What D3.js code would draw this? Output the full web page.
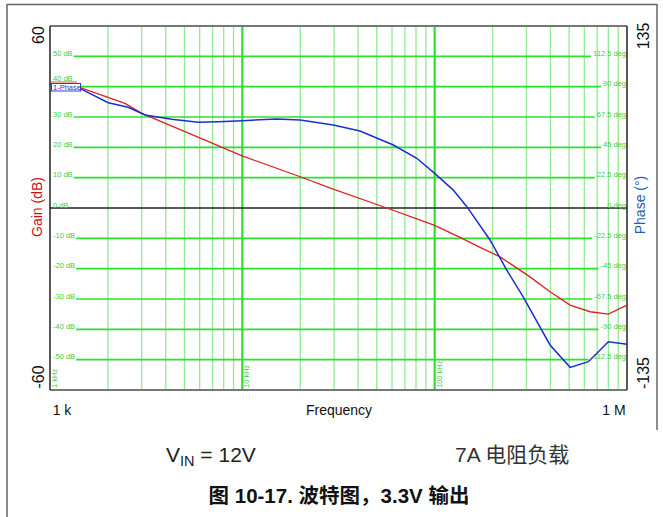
<!DOCTYPE html>
<html><head><meta charset="utf-8">
<script src="https://cdn.jsdelivr.net/npm/d3@7"></script>
<style>
html,body{margin:0;padding:0;background:#fff;}
svg{display:block;font-family:"Liberation Sans",Arial,"Noto Sans CJK SC",sans-serif;}
</style></head>
<body>
<svg id="chart" width="663" height="517"></svg>
<script>
// ---- data ----
const freqGain = [1000,1462,2455,3000,6400,10050,20000,29700,56400,80700,100000,135500,172000,219000,313000,398000,506000,643000,800000,1000000];
const gainDb   = [40.8,39.5,34.5,31.2,22.4,17.1,10.3,6.2,0.0,-3.6,-5.7,-9.7,-13.0,-16.1,-22.7,-27.6,-32.0,-34.2,-35.0,-32.0];
const freqPhase = [1000,1462,2010,2550,3120,4290,5900,7500,10000,15100,20000,29700,40900,61000,80700,100000,125000,147000,194000,237000,288000,398000,506000,630000,800000,1000000];
const phaseDeg  = [91.5,88,78.1,74.7,69,65.8,63.6,64,64.8,66,65.3,61.6,57.1,46.7,36.9,25.7,13.3,1,-23.7,-46,-65.8,-101.6,-118.2,-114,-99.2,-101.1];
const gainTicks  = [50,40,30,20,10,0,-10,-20,-30,-40,-50];
const phaseTicks = [112.5,90,67.5,45,22.5,0,-22.5,-45,-67.5,-90,-112.5];
const decadeFreqs = [1000,10000,100000];
const decadeLabels = ["1 kHz","10 kHz","100 kHz"];

const svg = d3.select("#chart");
const L=50, R=627, T=26, B=390;
const x = d3.scaleLog().domain([1000,1e6]).range([L,R]);
const yG = d3.scaleLinear().domain([-60,60]).range([B,T]);
const yP = d3.scaleLinear().domain([-135,135]).range([B,T]);

// outer frame
svg.append("line").attr("x1",7).attr("x2",7).attr("y1",4).attr("y2",517).attr("stroke","#666").attr("stroke-width",1.5);
svg.append("line").attr("x1",7).attr("x2",657).attr("y1",4.5).attr("y2",4.5).attr("stroke","#666").attr("stroke-width",1.5);
svg.append("line").attr("x1",657).attr("x2",657).attr("y1",4).attr("y2",430).attr("stroke","#666").attr("stroke-width",1.5);

// vertical grid
const minor=[];
for (let d=1000; d<1e6; d*=10) for (let k=2;k<=9;k++) minor.push(d*k);
const gridG = svg.append("g");
gridG.selectAll("line.mn").data(minor).join("line").attr("class","mn")
  .attr("x1",d=>x(d)).attr("x2",d=>x(d)).attr("y1",T).attr("y2",B)
  .attr("stroke","#95e895").attr("stroke-width",1.3);
gridG.selectAll("line.mj").data([10000,100000]).join("line").attr("class","mj")
  .attr("x1",d=>x(d)).attr("x2",d=>x(d)).attr("y1",T).attr("y2",B)
  .attr("stroke","#2ee02e").attr("stroke-width",2.2);

// horizontal grid with labels
const hG = svg.append("g");
const gl = svg.append("g").attr("font-size",7.5).attr("fill","#44cc44");
gainTicks.forEach((g,i)=>{
  const y = yG(g);
  const lt = gl.append("text").attr("x",L+3).attr("y",g===40?y-5.5:y-0.5).text(g+" dB");
  const rt = gl.append("text").attr("x",R-1).attr("y",y-0.5).attr("text-anchor","end").text(phaseTicks[i]+" deg");
  const lw = lt.node().getComputedTextLength();
  const rw = rt.node().getComputedTextLength();
  if (g===0) {
    hG.append("line").attr("x1",L).attr("x2",R).attr("y1",y).attr("y2",y).attr("stroke","#222").attr("stroke-width",1.3);
  } else {
    hG.append("line").attr("x1",L+4+lw).attr("x2",R-3-rw).attr("y1",y).attr("y2",y).attr("stroke","#2ee02e").attr("stroke-width",1.6);
  }
});

// decade labels rotated
svg.append("g").selectAll("text").data(decadeFreqs).join("text")
  .attr("transform",d=>`translate(${x(d)+7},${B-2}) rotate(-90)`)
  .attr("font-size",7.5).attr("fill","#44cc44").text((d,i)=>decadeLabels[i]);

// borders
svg.append("line").attr("x1",L).attr("x2",R).attr("y1",T).attr("y2",T).attr("stroke","#777").attr("stroke-width",2);
svg.append("line").attr("x1",L).attr("x2",R).attr("y1",B).attr("y2",B).attr("stroke","#777").attr("stroke-width",2);
svg.append("line").attr("x1",L).attr("x2",L).attr("y1",T).attr("y2",B).attr("stroke","#222").attr("stroke-width",1.5);
svg.append("line").attr("x1",R).attr("x2",R).attr("y1",T).attr("y2",B).attr("stroke","#222").attr("stroke-width",1.5);

// curves
const gainLine = d3.line().x(d=>x(d[0])).y(d=>yG(d[1]));
const phaseLine = d3.line().x(d=>x(d[0])).y(d=>yP(d[1]));
svg.append("path").datum(freqGain.map((f,i)=>[f,gainDb[i]])).attr("d",gainLine)
  .attr("fill","none").attr("stroke","#dd2222").attr("stroke-width",1.3);
svg.append("path").datum(freqPhase.map((f,i)=>[f,phaseDeg[i]])).attr("d",phaseLine)
  .attr("fill","none").attr("stroke","#1a2fd0").attr("stroke-width",1.5);

// legend boxes
svg.append("line").attr("x1",51).attr("x2",77).attr("y1",82).attr("y2",82).attr("stroke","#e05555").attr("stroke-width",1);
svg.append("rect").attr("x",51.5).attr("y",83.5).attr("width",29).attr("height",7.5).attr("fill","#fff").attr("stroke","#3a3ad0").attr("stroke-width",1);
svg.append("text").attr("x",53).attr("y",90).attr("font-size",7.5).attr("fill","#3030c0").text("1-Phase");

// axis end labels
const rot=(xx,yy,txt,opts={})=>{
  return svg.append("text").attr("transform",`translate(${xx},${yy}) rotate(-90)`)
    .attr("font-size",opts.size||16).attr("fill",opts.fill||"#111").attr("text-anchor",opts.anchor||"middle").text(txt);
};
rot(44,35,"60");
rot(44,377,"-60");
rot(649,36,"135");
rot(649,373,"-135");
rot(42,207,"Gain (dB)",{size:14,fill:"#cc1111"});
rot(645,205,"Phase (°)",{size:14,fill:"#1e5fb0"});

// bottom labels
svg.append("text").attr("x",62).attr("y",415).attr("font-size",14).attr("text-anchor","middle").attr("fill","#111").text("1 k");
svg.append("text").attr("x",339).attr("y",415).attr("font-size",14).attr("text-anchor","middle").attr("fill","#111").text("Frequency");
svg.append("text").attr("x",614).attr("y",415).attr("font-size",14).attr("text-anchor","middle").attr("fill","#111").text("1 M");

// annotations
const vin = svg.append("text").attr("x",166).attr("y",462).attr("font-size",21).attr("fill","#222");
vin.append("tspan").text("V");
vin.append("tspan").attr("font-size",14.5).attr("dy",4).text("IN");
vin.append("tspan").attr("dy",-4).text(" = 12V");
svg.append("text").attr("x",455).attr("y",462).attr("font-size",21).attr("fill","#333")
  .style("font-family","'Liberation Sans','Noto Sans CJK SC',sans-serif").text("7A 电阻负载");
svg.append("text").attr("x",339).attr("y",503).attr("font-size",20.5).attr("font-weight","bold").attr("text-anchor","middle").attr("fill","#111")
  .style("font-family","'Liberation Sans','Noto Sans CJK SC',sans-serif").text("图 10-17. 波特图，3.3V 输出");
</script>
</body></html>
